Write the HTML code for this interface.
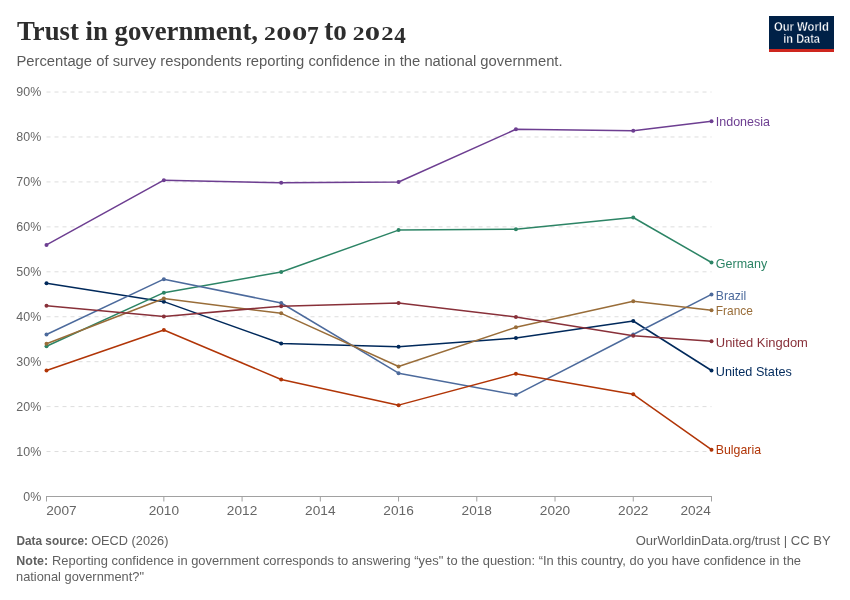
<!DOCTYPE html>
<html><head><meta charset="utf-8">
<style>
html,body{margin:0;padding:0;background:#fff;width:850px;height:600px;overflow:hidden;}
body{position:relative;font-family:"Liberation Sans",sans-serif;}
svg{position:absolute;left:0;top:0;will-change:transform;}
text{font-family:"Liberation Sans",sans-serif;}
.title{font-family:"Liberation Serif",serif;font-weight:bold;font-size:26.8px;fill:#2d2d2d;}
.sub{font-size:15.2px;fill:#5b5b5b;}
.ax{font-size:13px;fill:#666;}
.lbl{font-size:13px;}
.yr{font-size:13.5px;}
.yl{font-size:13.3px;}
.foot{font-size:12.2px;fill:#606060;}
.logot{font-size:12.3px;font-weight:bold;fill:#fff;stroke:#002147;stroke-width:0.35px;}
</style></head><body>
<svg width="850" height="600">
<line x1="46.5" y1="451.56" x2="711.5" y2="451.56" stroke="#dddddd" stroke-width="1" stroke-dasharray="4,4"/>
<line x1="46.5" y1="406.62" x2="711.5" y2="406.62" stroke="#dddddd" stroke-width="1" stroke-dasharray="4,4"/>
<line x1="46.5" y1="361.68" x2="711.5" y2="361.68" stroke="#dddddd" stroke-width="1" stroke-dasharray="4,4"/>
<line x1="46.5" y1="316.74" x2="711.5" y2="316.74" stroke="#dddddd" stroke-width="1" stroke-dasharray="4,4"/>
<line x1="46.5" y1="271.80" x2="711.5" y2="271.80" stroke="#dddddd" stroke-width="1" stroke-dasharray="4,4"/>
<line x1="46.5" y1="226.86" x2="711.5" y2="226.86" stroke="#dddddd" stroke-width="1" stroke-dasharray="4,4"/>
<line x1="46.5" y1="181.92" x2="711.5" y2="181.92" stroke="#dddddd" stroke-width="1" stroke-dasharray="4,4"/>
<line x1="46.5" y1="136.98" x2="711.5" y2="136.98" stroke="#dddddd" stroke-width="1" stroke-dasharray="4,4"/>
<line x1="46.5" y1="92.04" x2="711.5" y2="92.04" stroke="#dddddd" stroke-width="1" stroke-dasharray="4,4"/>
<text x="41.2" y="500.80" text-anchor="end" class="ax yl" textLength="17.9" lengthAdjust="spacingAndGlyphs">0%</text>
<text x="41.2" y="455.86" text-anchor="end" class="ax yl" textLength="24.9" lengthAdjust="spacingAndGlyphs">10%</text>
<text x="41.2" y="410.92" text-anchor="end" class="ax yl" textLength="24.9" lengthAdjust="spacingAndGlyphs">20%</text>
<text x="41.2" y="365.98" text-anchor="end" class="ax yl" textLength="24.9" lengthAdjust="spacingAndGlyphs">30%</text>
<text x="41.2" y="321.04" text-anchor="end" class="ax yl" textLength="24.9" lengthAdjust="spacingAndGlyphs">40%</text>
<text x="41.2" y="276.10" text-anchor="end" class="ax yl" textLength="24.9" lengthAdjust="spacingAndGlyphs">50%</text>
<text x="41.2" y="231.16" text-anchor="end" class="ax yl" textLength="24.9" lengthAdjust="spacingAndGlyphs">60%</text>
<text x="41.2" y="186.22" text-anchor="end" class="ax yl" textLength="24.9" lengthAdjust="spacingAndGlyphs">70%</text>
<text x="41.2" y="141.28" text-anchor="end" class="ax yl" textLength="24.9" lengthAdjust="spacingAndGlyphs">80%</text>
<text x="41.2" y="96.34" text-anchor="end" class="ax yl" textLength="24.9" lengthAdjust="spacingAndGlyphs">90%</text>
<line x1="46" y1="496.5" x2="712" y2="496.5" stroke="#a1a1a1" stroke-width="1"/>
<line x1="46.50" y1="496.5" x2="46.50" y2="501.5" stroke="#a1a1a1" stroke-width="1"/>
<text x="46.20" y="514.6" text-anchor="start" class="ax yr" textLength="30.4" lengthAdjust="spacingAndGlyphs">2007</text>
<line x1="163.85" y1="496.5" x2="163.85" y2="501.5" stroke="#a1a1a1" stroke-width="1"/>
<text x="163.85" y="514.6" text-anchor="middle" class="ax yr" textLength="30.4" lengthAdjust="spacingAndGlyphs">2010</text>
<line x1="242.09" y1="496.5" x2="242.09" y2="501.5" stroke="#a1a1a1" stroke-width="1"/>
<text x="242.09" y="514.6" text-anchor="middle" class="ax yr" textLength="30.4" lengthAdjust="spacingAndGlyphs">2012</text>
<line x1="320.32" y1="496.5" x2="320.32" y2="501.5" stroke="#a1a1a1" stroke-width="1"/>
<text x="320.32" y="514.6" text-anchor="middle" class="ax yr" textLength="30.4" lengthAdjust="spacingAndGlyphs">2014</text>
<line x1="398.56" y1="496.5" x2="398.56" y2="501.5" stroke="#a1a1a1" stroke-width="1"/>
<text x="398.56" y="514.6" text-anchor="middle" class="ax yr" textLength="30.4" lengthAdjust="spacingAndGlyphs">2016</text>
<line x1="476.79" y1="496.5" x2="476.79" y2="501.5" stroke="#a1a1a1" stroke-width="1"/>
<text x="476.79" y="514.6" text-anchor="middle" class="ax yr" textLength="30.4" lengthAdjust="spacingAndGlyphs">2018</text>
<line x1="555.03" y1="496.5" x2="555.03" y2="501.5" stroke="#a1a1a1" stroke-width="1"/>
<text x="555.03" y="514.6" text-anchor="middle" class="ax yr" textLength="30.4" lengthAdjust="spacingAndGlyphs">2020</text>
<line x1="633.26" y1="496.5" x2="633.26" y2="501.5" stroke="#a1a1a1" stroke-width="1"/>
<text x="633.26" y="514.6" text-anchor="middle" class="ax yr" textLength="30.4" lengthAdjust="spacingAndGlyphs">2022</text>
<line x1="711.50" y1="496.5" x2="711.50" y2="501.5" stroke="#a1a1a1" stroke-width="1"/>
<text x="710.80" y="514.6" text-anchor="end" class="ax yr" textLength="30.4" lengthAdjust="spacingAndGlyphs">2024</text>
<polyline points="46.50,283.20 163.85,301.65 281.21,343.50 398.56,346.65 515.91,338.10 633.26,321.00 711.50,370.50" fill="none" stroke="#00295B" stroke-width="1.5" stroke-linejoin="round"/>
<circle cx="46.50" cy="283.20" r="2" fill="#00295B"/>
<circle cx="163.85" cy="301.65" r="2" fill="#00295B"/>
<circle cx="281.21" cy="343.50" r="2" fill="#00295B"/>
<circle cx="398.56" cy="346.65" r="2" fill="#00295B"/>
<circle cx="515.91" cy="338.10" r="2" fill="#00295B"/>
<circle cx="633.26" cy="321.00" r="2" fill="#00295B"/>
<circle cx="711.50" cy="370.50" r="2" fill="#00295B"/>
<polyline points="46.50,346.20 163.85,292.65 281.21,271.95 398.56,230.10 515.91,229.20 633.26,217.50 711.50,262.50" fill="none" stroke="#2C8465" stroke-width="1.5" stroke-linejoin="round"/>
<circle cx="46.50" cy="346.20" r="2" fill="#2C8465"/>
<circle cx="163.85" cy="292.65" r="2" fill="#2C8465"/>
<circle cx="281.21" cy="271.95" r="2" fill="#2C8465"/>
<circle cx="398.56" cy="230.10" r="2" fill="#2C8465"/>
<circle cx="515.91" cy="229.20" r="2" fill="#2C8465"/>
<circle cx="633.26" cy="217.50" r="2" fill="#2C8465"/>
<circle cx="711.50" cy="262.50" r="2" fill="#2C8465"/>
<polyline points="46.50,334.50 163.85,279.15 281.21,303.00 398.56,373.20 515.91,394.80 633.26,334.50 711.50,294.45" fill="none" stroke="#4C6A9C" stroke-width="1.5" stroke-linejoin="round"/>
<circle cx="46.50" cy="334.50" r="2" fill="#4C6A9C"/>
<circle cx="163.85" cy="279.15" r="2" fill="#4C6A9C"/>
<circle cx="281.21" cy="303.00" r="2" fill="#4C6A9C"/>
<circle cx="398.56" cy="373.20" r="2" fill="#4C6A9C"/>
<circle cx="515.91" cy="394.80" r="2" fill="#4C6A9C"/>
<circle cx="633.26" cy="334.50" r="2" fill="#4C6A9C"/>
<circle cx="711.50" cy="294.45" r="2" fill="#4C6A9C"/>
<polyline points="46.50,343.68 163.85,298.50 281.21,313.35 398.56,366.45 515.91,327.30 633.26,301.20 711.50,310.20" fill="none" stroke="#996D39" stroke-width="1.5" stroke-linejoin="round"/>
<circle cx="46.50" cy="343.68" r="2" fill="#996D39"/>
<circle cx="163.85" cy="298.50" r="2" fill="#996D39"/>
<circle cx="281.21" cy="313.35" r="2" fill="#996D39"/>
<circle cx="398.56" cy="366.45" r="2" fill="#996D39"/>
<circle cx="515.91" cy="327.30" r="2" fill="#996D39"/>
<circle cx="633.26" cy="301.20" r="2" fill="#996D39"/>
<circle cx="711.50" cy="310.20" r="2" fill="#996D39"/>
<polyline points="46.50,370.50 163.85,330.00 281.21,379.50 398.56,405.15 515.91,373.65 633.26,394.35 711.50,449.70" fill="none" stroke="#B13507" stroke-width="1.5" stroke-linejoin="round"/>
<circle cx="46.50" cy="370.50" r="2" fill="#B13507"/>
<circle cx="163.85" cy="330.00" r="2" fill="#B13507"/>
<circle cx="281.21" cy="379.50" r="2" fill="#B13507"/>
<circle cx="398.56" cy="405.15" r="2" fill="#B13507"/>
<circle cx="515.91" cy="373.65" r="2" fill="#B13507"/>
<circle cx="633.26" cy="394.35" r="2" fill="#B13507"/>
<circle cx="711.50" cy="449.70" r="2" fill="#B13507"/>
<polyline points="46.50,305.70 163.85,316.50 281.21,306.15 398.56,303.00 515.91,316.95 633.26,335.85 711.50,341.25" fill="none" stroke="#883039" stroke-width="1.5" stroke-linejoin="round"/>
<circle cx="46.50" cy="305.70" r="2" fill="#883039"/>
<circle cx="163.85" cy="316.50" r="2" fill="#883039"/>
<circle cx="281.21" cy="306.15" r="2" fill="#883039"/>
<circle cx="398.56" cy="303.00" r="2" fill="#883039"/>
<circle cx="515.91" cy="316.95" r="2" fill="#883039"/>
<circle cx="633.26" cy="335.85" r="2" fill="#883039"/>
<circle cx="711.50" cy="341.25" r="2" fill="#883039"/>
<polyline points="46.50,244.95 163.85,180.15 281.21,182.85 398.56,181.95 515.91,129.30 633.26,130.65 711.50,121.20" fill="none" stroke="#6D3E91" stroke-width="1.5" stroke-linejoin="round"/>
<circle cx="46.50" cy="244.95" r="2" fill="#6D3E91"/>
<circle cx="163.85" cy="180.15" r="2" fill="#6D3E91"/>
<circle cx="281.21" cy="182.85" r="2" fill="#6D3E91"/>
<circle cx="398.56" cy="181.95" r="2" fill="#6D3E91"/>
<circle cx="515.91" cy="129.30" r="2" fill="#6D3E91"/>
<circle cx="633.26" cy="130.65" r="2" fill="#6D3E91"/>
<circle cx="711.50" cy="121.20" r="2" fill="#6D3E91"/>
<text x="715.8" y="126.1" class="lbl" fill="#6D3E91" textLength="54.2" lengthAdjust="spacingAndGlyphs">Indonesia</text>
<text x="715.8" y="267.8" class="lbl" fill="#2C8465" textLength="51.5" lengthAdjust="spacingAndGlyphs">Germany</text>
<text x="715.8" y="299.5" class="lbl" fill="#4C6A9C" textLength="30.4" lengthAdjust="spacingAndGlyphs">Brazil</text>
<text x="715.8" y="314.8" class="lbl" fill="#996D39" textLength="37.1" lengthAdjust="spacingAndGlyphs">France</text>
<text x="715.8" y="346.5" class="lbl" fill="#883039" textLength="92.1" lengthAdjust="spacingAndGlyphs">United Kingdom</text>
<text x="715.8" y="375.7" class="lbl" fill="#00295B" textLength="76.0" lengthAdjust="spacingAndGlyphs">United States</text>
<text x="715.8" y="454.4" class="lbl" fill="#B13507" textLength="45.2" lengthAdjust="spacingAndGlyphs">Bulgaria</text>
<text x="17" y="40.4" class="title" textLength="241" lengthAdjust="spacingAndGlyphs">Trust in government,</text>
<text transform="translate(264.008,40.100) scale(0.8811,0.7270)" x="0" y="0" class="title" style="font-kerning:none">2</text>
<text transform="translate(276.241,40.009) scale(1.1357,0.7299)" x="0" y="0" class="title" style="font-kerning:none">0</text>
<text transform="translate(292.032,40.009) scale(1.1445,0.7299)" x="0" y="0" class="title" style="font-kerning:none">0</text>
<text transform="translate(307.062,43.500) scale(0.8739,0.9118)" x="0" y="0" class="title" style="font-kerning:none">7</text>
<text transform="translate(324.166,40.015) scale(1.0061,1.0880)" x="0" y="0" class="title" style="font-kerning:none">to</text>
<text transform="translate(352.808,40.100) scale(0.8811,0.7270)" x="0" y="0" class="title" style="font-kerning:none">2</text>
<text transform="translate(364.732,40.009) scale(1.1445,0.7299)" x="0" y="0" class="title" style="font-kerning:none">0</text>
<text transform="translate(381.368,40.100) scale(0.9170,0.7270)" x="0" y="0" class="title" style="font-kerning:none">2</text>
<text transform="translate(394.284,43.100) scale(0.8615,0.8957)" x="0" y="0" class="title" style="font-kerning:none">4</text>
<text x="16.4" y="66.2" class="sub" textLength="546.2" lengthAdjust="spacingAndGlyphs">Percentage of survey respondents reporting confidence in the national government.</text>
<text x="16.5" y="545" class="foot" font-weight="bold" textLength="71.5" lengthAdjust="spacingAndGlyphs">Data source:</text>
<text x="91.2" y="545" class="foot" textLength="77.2" lengthAdjust="spacingAndGlyphs">OECD (2026)</text>
<text x="635.7" y="545" class="foot" textLength="194.9" lengthAdjust="spacingAndGlyphs">OurWorldinData.org/trust | CC BY</text>
<text x="16.3" y="565" class="foot" font-weight="bold" textLength="31.8" lengthAdjust="spacingAndGlyphs">Note:</text>
<text x="52" y="565" class="foot" textLength="749" lengthAdjust="spacingAndGlyphs">Reporting confidence in government corresponds to answering “yes" to the question: “In this country, do you have confidence in the</text>
<text x="16" y="580.6" class="foot" textLength="128" lengthAdjust="spacingAndGlyphs">national government?"</text>
<rect x="769" y="16" width="65" height="36" fill="#002147"/>
<rect x="769" y="49" width="65" height="3" fill="#ce261e"/>
<text x="773.9" y="30.6" class="logot" textLength="55" lengthAdjust="spacingAndGlyphs">Our World</text>
<text x="783.3" y="42.8" class="logot" textLength="36.7" lengthAdjust="spacingAndGlyphs">in Data</text>
</svg>
</body></html>
